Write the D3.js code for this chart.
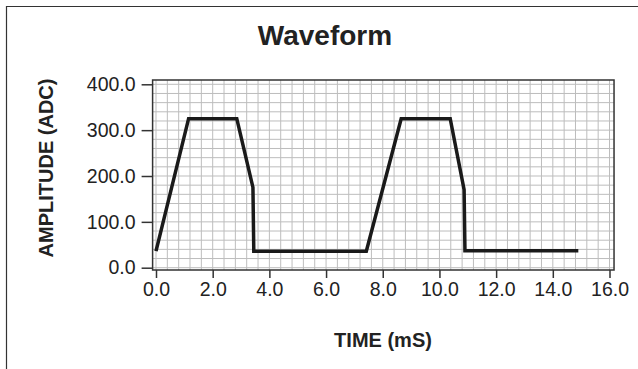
<!DOCTYPE html>
<html>
<head>
    <title>Waveform</title>
    <script src="https://cdnjs.cloudflare.com/ajax/libs/d3/7.8.5/d3.min.js"></script>
    <style>
        body {
            margin: 0;
            background-color: white;
            font-family: "Liberation Sans", Arial, Helvetica, sans-serif;
        }
        #chart svg {
            display: block;
        }
    </style>
</head>
<body>
    <div id="chart"></div>

    <script>
        // Data
        const timeMs = [0.0, 1.15, 2.85, 3.42, 3.45, 7.42, 8.65, 10.38, 10.87, 10.9, 14.9];
        const amplitude = [36, 325, 325, 175, 36, 36, 325, 325, 170, 37, 37];
        const xTicks = [0, 2, 4, 6, 8, 10, 12, 14, 16];
        const yTicks = [0, 100, 200, 300, 400];

        const width = 638, height = 369;

        const svg = d3.select('#chart')
            .append('svg')
                .attr('width', width)
                .attr('height', height);

        // Scales
        const x = d3.scaleLinear().domain([0, 16]).range([156, 609.5]);
        const y = d3.scaleLinear().domain([0, 400]).range([267.7, 84.3]);

        const plotLeft = x(-0.12), plotRight = x(16.16);
        const plotTop = 80, plotBottom = 270;

        // Outer frame (only top and left sides are visible)
        svg.append('path')
            .attr('d', `M6.5,${height} V6.5 H${width}`)
            .attr('fill', 'none')
            .attr('stroke', '#333')
            .attr('stroke-width', 1.2);

        // Title
        svg.append('text')
            .attr('x', 325)
            .attr('y', 45)
            .attr('text-anchor', 'middle')
            .style('font-size', '28px')
            .style('font-weight', 'bold')
            .attr('fill', '#222')
            .text('Waveform');

        // Grid
        const grid = svg.append('g');
        const xGrid = d3.range(0, 16.01, 0.4);
        const yGrid = d3.range(0, 400.1, 20);

        grid.selectAll('line.v')
            .data(xGrid)
            .join('line')
                .attr('class', 'v')
                .attr('x1', d => x(d)).attr('x2', d => x(d))
                .attr('y1', plotTop).attr('y2', plotBottom)
                .attr('stroke', '#bdbdbd')
                .attr('stroke-width', 1);

        grid.selectAll('line.h')
            .data(yGrid)
            .join('line')
                .attr('class', 'h')
                .attr('x1', plotLeft).attr('x2', plotRight)
                .attr('y1', d => y(d)).attr('y2', d => y(d))
                .attr('stroke', '#bdbdbd')
                .attr('stroke-width', 1);

        // Plot border
        svg.append('rect')
            .attr('x', plotLeft)
            .attr('y', plotTop)
            .attr('width', plotRight - plotLeft)
            .attr('height', plotBottom - plotTop)
            .attr('fill', 'none')
            .attr('stroke', '#333')
            .attr('stroke-width', 1.5);

        // Y axis
        const yAxis = svg.append('g')
            .attr('transform', `translate(${plotLeft},0)`)
            .call(d3.axisLeft(y)
                .tickValues(yTicks)
                .tickSize(11)
                .tickPadding(6)
                .tickFormat(d3.format('.1f')));
        yAxis.select('.domain').remove();

        // X axis
        const xAxis = svg.append('g')
            .attr('transform', `translate(0,${plotBottom})`)
            .call(d3.axisBottom(x)
                .tickValues(xTicks)
                .tickSize(8)
                .tickPadding(4)
                .tickFormat(d3.format('.1f')));
        xAxis.select('.domain').remove();

        svg.selectAll('.tick line')
            .attr('stroke', '#333')
            .attr('stroke-width', 1.5);
        svg.selectAll('.tick text')
            .style('font-family', '"Liberation Sans", Arial, sans-serif')
            .style('font-size', '19.5px')
            .attr('fill', '#222');

        // Waveform line
        const points = timeMs.map((t, i) => ({ t: t, a: amplitude[i] }));
        const line = d3.line()
            .x(d => x(d.t))
            .y(d => y(d.a));

        svg.append('path')
            .datum(points)
            .attr('fill', 'none')
            .attr('stroke', '#1a1a1a')
            .attr('stroke-width', 3.5)
            .attr('stroke-linejoin', 'miter')
            .attr('d', line);

        // Axis labels
        svg.append('text')
            .attr('x', 383)
            .attr('y', 347)
            .attr('text-anchor', 'middle')
            .style('font-size', '20px')
            .style('font-weight', 'bold')
            .attr('fill', '#222')
            .text('TIME (mS)');

        svg.append('text')
            .attr('transform', 'translate(53,168) rotate(-90)')
            .attr('text-anchor', 'middle')
            .style('font-size', '20px')
            .style('font-weight', 'bold')
            .attr('fill', '#222')
            .text('AMPLITUDE (ADC)');
    </script>
</body>
</html>
